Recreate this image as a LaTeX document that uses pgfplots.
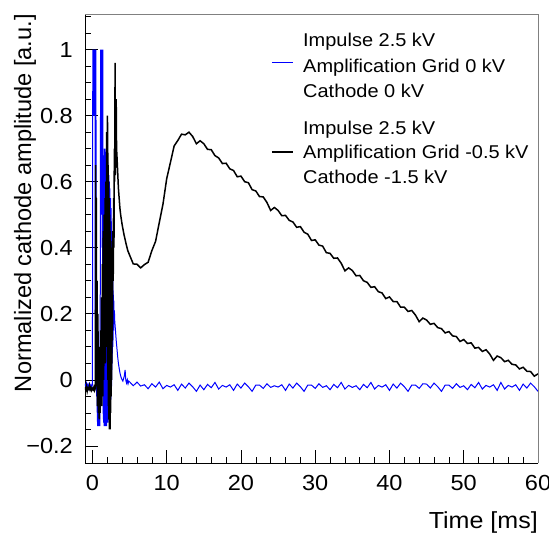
\documentclass[border=0pt]{standalone}
\usepackage{fontspec}
\setmainfont[FakeStretch=1.08]{Liberation Sans}
\newfontfamily\ylabfont{Liberation Sans}
\usepackage{pgfplots}
\pgfplotsset{compat=1.18}
\definecolor{rootblue}{RGB}{0,0,255}
\newcommand{\legfont}{\fontsize{18.5bp}{25bp}\selectfont}
\begin{document}
\begin{tikzpicture}
\begin{axis}[
  name=ax,
  scale only axis, width=453bp, height=449bp,
  xmin=-1, xmax=60, ymin=-0.252, ymax=1.108,
  axis x line*=bottom, axis y line*=left,
  axis line style={-, line width=0.8bp, black},
  xtick={0,10,20,30,40,50,60},
  minor xtick={2,4,6,8,12,14,16,18,22,24,26,28,32,34,36,38,42,44,46,48,52,54,56,58},
  ytick={-0.2,0,0.2,0.4,0.6,0.8,1},
  yticklabels={−0.2,0,0.2,0.4,0.6,0.8,1},
  minor ytick={-0.15,-0.1,-0.05,0.05,0.1,0.15,0.25,0.3,0.35,0.45,0.5,0.55,0.65,0.7,0.75,0.85,0.9,0.95,1.05,1.1},
  tick align=inside,
  major tick length=13bp, minor tick length=6.5bp,
  tick style={black, line width=0.6bp},
  ticklabel style={font=\fontsize{21.8bp}{22bp}\selectfont, inner sep=0pt},
  xticklabel style={yshift=-12bp},
  yticklabel style={xshift=-12bp},
  /pgf/number format/assume math mode=true,
  xlabel={Time [ms]},
  ylabel={Normalized cathode amplitude [a.u.]},
  xlabel style={font=\fontsize{23.2bp}{24bp}\selectfont, at={(rel axis cs:1,-0.1448)}, anchor=base east, inner sep=0pt},
  ylabel style={font=\ylabfont\fontsize{23.6bp}{24bp}\selectfont, at={(rel axis cs:-0.119,1)}, anchor=base east, inner sep=0pt},
]
\addplot[rootblue, line width=1bp] coordinates {
(-1,-0.012) (-0.9,-0.02) (-0.8,-0.01) (-0.7,-0.022) (-0.6,-0.014) (-0.5,-0.025) (-0.4,-0.012) (-0.3,-0.02) (-0.2,-0.015) (-0.1,-0.022) (0,-0.015)
(0.03,0.6) (0.05,1.0) (0.08,0.85) (0.1,1.0) (0.13,0.8) (0.16,1.0) (0.19,0.82) (0.22,1.0) (0.25,0.85) (0.28,1.0) (0.31,0.8) (0.34,1.0) (0.37,0.2) (0.4,1.0) (0.43,0.8) (0.46,1.0) (0.5,0.6) (0.55,-0.05) (0.6,0.1) (0.65,-0.1) (0.7,-0.14) (0.75,-0.05) (0.8,-0.14) (0.85,-0.08) (0.9,-0.14) (0.95,-0.1) (1.0,-0.14) (1.05,0.2) (1.1,1.0) (1.13,0.7) (1.16,1.0) (1.19,0.5) (1.22,1.0) (1.25,0.6) (1.28,1.0) (1.31,0.4) (1.34,1.0) (1.37,0.3) (1.4,1.0) (1.43,0.1)
(1.46,-0.12) (1.48,0.55) (1.50,-0.13) (1.52,0.62) (1.54,-0.10) (1.56,0.68) (1.58,-0.14) (1.60,0.70) (1.62,-0.11) (1.64,0.66) (1.66,-0.13) (1.68,0.70) (1.70,-0.12) (1.72,0.64) (1.74,-0.14) (1.76,0.69) (1.78,-0.10) (1.80,0.60) (1.82,-0.13) (1.84,0.67) (1.86,-0.12) (1.88,0.70) (1.90,-0.14) (1.92,0.65) (1.94,-0.11) (1.96,0.68) (1.98,-0.13) (2.00,0.62) (2.02,-0.12) (2.04,0.66) (2.06,-0.10) (2.08,0.60) (2.10,-0.13) (2.12,0.64) (2.14,-0.11) (2.16,0.58) (2.18,-0.12) (2.20,0.62) (2.22,-0.09) (2.24,0.56) (2.26,-0.11) (2.28,0.60) (2.30,-0.08) (2.32,0.55) (2.34,-0.10) (2.36,0.58) (2.38,-0.06) (2.40,0.52) (2.42,-0.08) (2.44,0.55) (2.46,-0.04) (2.48,0.50) (2.50,-0.06) (2.52,0.52) (2.54,0.00) (2.56,0.48) (2.58,-0.02) (2.60,0.45) (2.62,0.03) (2.64,0.42) (2.66,0.05) (2.68,0.38) (2.70,0.08) (2.72,0.34) (2.74,0.10) (2.76,0.30) (2.78,0.12) (2.80,0.27)
(2.84,0.15) (2.88,0.24) (2.92,0.17) (2.96,0.21) (3.0,0.18) (3.1,0.15) (3.2,0.12) (3.3,0.095) (3.4,0.07) (3.5,0.05) (3.6,0.035) (3.7,0.022) (3.8,0.012) (3.9,0.005) (4.0,0.0) (4.1,-0.004) (4.2,0.004) (4.3,0.012) (4.4,0.03) (4.5,-0.002) (4.6,-0.01) (4.7,0.0) (4.8,-0.012) (4.9,-0.004)
(5.0,-0.006) (5.5,-0.018) (6.0,-0.007) (6.5,-0.019) (7.0,-0.015) (7.5,-0.027) (8.0,-0.012) (8.5,-0.022) (9.0,-0.007) (9.5,-0.027) (10.0,-0.017) (10.5,-0.022) (11.0,-0.015) (11.5,-0.032) (12.0,-0.013) (12.5,-0.025) (13.0,-0.010) (13.5,-0.021) (14.0,-0.035) (14.5,-0.016)
(15.0,-0.030) (15.5,-0.014) (16.0,-0.024) (16.5,-0.008) (17.0,-0.028) (17.5,-0.017) (18.0,-0.022) (18.5,-0.015) (19.0,-0.032) (19.5,-0.013) (20.0,-0.025) (20.5,-0.010) (21.0,-0.021) (21.5,-0.035) (22.0,-0.016) (22.5,-0.016) (23.0,-0.026) (23.5,-0.012) (24.0,-0.023) (24.5,-0.018)
(25.0,-0.022) (25.5,-0.015) (26.0,-0.032) (26.5,-0.013) (27.0,-0.025) (27.5,-0.010) (28.0,-0.021) (28.5,-0.035) (29.0,-0.016) (29.5,-0.016) (30.0,-0.026) (30.5,-0.012) (31.0,-0.023) (31.5,-0.018) (32.0,-0.030) (32.5,-0.014) (33.0,-0.024) (33.5,-0.008) (34.0,-0.028) (34.5,-0.017)
(35.0,-0.023) (35.5,-0.018) (36.0,-0.030) (36.5,-0.014) (37.0,-0.024) (37.5,-0.008) (38.0,-0.028) (38.5,-0.017) (39.0,-0.022) (39.5,-0.015) (40.0,-0.032) (40.5,-0.013) (41.0,-0.025) (41.5,-0.010) (42.0,-0.021) (42.5,-0.035) (43.0,-0.016) (43.5,-0.016) (44.0,-0.026) (44.5,-0.012)
(45.0,-0.013) (45.5,-0.025) (46.0,-0.010) (46.5,-0.021) (47.0,-0.035) (47.5,-0.016) (48.0,-0.016) (48.5,-0.026) (49.0,-0.012) (49.5,-0.023) (50.0,-0.018) (50.5,-0.030) (51.0,-0.014) (51.5,-0.024) (52.0,-0.008) (52.5,-0.028) (53.0,-0.017) (53.5,-0.022) (54.0,-0.015) (54.5,-0.032)
(55.0,-0.008) (55.5,-0.028) (56.0,-0.017) (56.5,-0.022) (57.0,-0.015) (57.5,-0.032) (58.0,-0.013) (58.5,-0.025) (59.0,-0.010) (59.5,-0.021) (60.0,-0.035)
};
\addplot[black, line width=1.5bp] coordinates {
(-1,-0.022) (-0.9,-0.030) (-0.8,-0.02) (-0.7,-0.035) (-0.6,-0.025) (-0.5,-0.028) (-0.4,-0.018) (-0.3,-0.03) (-0.2,-0.024) (-0.1,-0.032)
(0.0,-0.026) (0.1,-0.03) (0.2,-0.022) (0.3,-0.032) (0.4,-0.025) (0.44,0.65) (0.48,0.15) (0.52,0.55) (0.56,-0.02) (0.62,0.3) (0.68,-0.08) (0.74,0.2) (0.8,-0.1) (0.86,0.1) (0.92,-0.12) (0.98,0.05) (1.04,-0.1) (1.1,0.15) (1.16,-0.05) (1.22,0.25) (1.28,-0.08) (1.34,0.35) (1.4,-0.05) (1.46,0.45) (1.52,0.0) (1.58,0.5) (1.64,0.1) (1.7,0.55) (1.76,0.05) (1.82,0.6) (1.88,0.1) (1.92,0.75) (1.96,0.2) (2.0,0.8) (2.03,0.1) (2.06,0.78) (2.09,0.0) (2.12,0.65) (2.15,-0.08) (2.18,0.6) (2.21,-0.12) (2.24,0.55) (2.27,-0.15) (2.30,0.5) (2.33,-0.14) (2.36,0.48) (2.39,-0.15) (2.42,0.45) (2.45,-0.1) (2.48,0.42) (2.51,-0.05) (2.54,0.4) (2.57,0.0) (2.60,0.38) (2.63,0.05) (2.66,0.4) (2.7,0.15) (2.75,0.45) (2.8,0.3) (2.85,0.55) (2.9,0.4) (2.95,0.7) (3.0,0.6) (3.05,0.96) (3.1,0.62) (3.15,0.78) (3.2,0.85) (3.25,0.7) (3.3,0.68) (3.4,0.63) (3.5,0.58) (3.6,0.55) (3.7,0.52) (3.8,0.5) (3.9,0.485) (4.0,0.47) (4.25,0.44) (4.5,0.415) (4.75,0.392)
(5.0,0.378) (5.5,0.351) (6.0,0.350) (6.5,0.339) (7.0,0.349) (7.5,0.356) (8.0,0.391) (8.5,0.419) (9.0,0.476) (9.5,0.532) (10.0,0.609) (10.5,0.658) (11.0,0.708) (11.5,0.725) (12.0,0.744) (12.5,0.742) (13.0,0.750) (13.5,0.737) (14.0,0.715) (14.5,0.724)
(15.0,0.715) (15.5,0.698) (16.0,0.697) (16.5,0.679) (17.0,0.672) (17.5,0.655) (18.0,0.656) (18.5,0.639) (19.0,0.634) (19.5,0.615) (20.0,0.617) (20.5,0.600) (21.0,0.597) (21.5,0.576) (22.0,0.572) (22.5,0.555) (23.0,0.554) (23.5,0.537) (24.0,0.513) (24.5,0.522)
(25.0,0.513) (25.5,0.497) (26.0,0.498) (26.5,0.483) (27.0,0.478) (27.5,0.462) (28.0,0.464) (28.5,0.447) (29.0,0.441) (29.5,0.422) (30.0,0.424) (30.5,0.408) (31.0,0.405) (31.5,0.385) (32.0,0.383) (32.5,0.368) (33.0,0.369) (33.5,0.353) (34.0,0.330) (34.5,0.339)
(35.0,0.331) (35.5,0.315) (36.0,0.316) (36.5,0.300) (37.0,0.295) (37.5,0.280) (38.0,0.282) (38.5,0.267) (39.0,0.263) (39.5,0.246) (40.0,0.251) (40.5,0.237) (41.0,0.237) (41.5,0.220) (42.0,0.220) (42.5,0.207) (43.0,0.210) (43.5,0.196) (44.0,0.176) (44.5,0.187)
(45.0,0.181) (45.5,0.168) (46.0,0.171) (46.5,0.158) (47.0,0.155) (47.5,0.142) (48.0,0.146) (48.5,0.133) (49.0,0.131) (49.5,0.116) (50.0,0.122) (50.5,0.110) (51.0,0.112) (51.5,0.096) (52.0,0.098) (52.5,0.086) (53.0,0.091) (53.5,0.078) (54.0,0.059) (54.5,0.072)
(55.0,0.067) (55.5,0.055) (56.0,0.059) (56.5,0.047) (57.0,0.045) (57.5,0.033) (58.0,0.038) (58.5,0.026) (59.0,0.025) (59.5,0.011) (60.0,0.018)
};
% legend
\draw[rootblue, line width=1bp] (rel axis cs:0.4128,0.8909) -- (rel axis cs:0.4592,0.8909);
\draw[black, line width=1.2bp] (rel axis cs:0.4128,0.6927) -- (rel axis cs:0.4592,0.6927);
\begin{scope}[every node/.style={anchor=base west, inner sep=0pt, font=\legfont}]
\node at (rel axis cs:0.4812,0.9265) {Impulse 2.5 kV};
\node at (rel axis cs:0.4812,0.8708) {Amplification Grid 0 kV};
\node at (rel axis cs:0.4812,0.8151) {Cathode 0 kV};
\node at (rel axis cs:0.4812,0.7327) {Impulse 2.5 kV};
\node at (rel axis cs:0.4812,0.6771) {Amplification Grid -0.5 kV};
\node at (rel axis cs:0.4812,0.6225) {Cathode -1.5 kV};
\end{scope}
\end{axis}
\draw[gray, line width=0.8bp] (ax.north west) -- (ax.north east) -- (ax.south east);
\pgfresetboundingbox
\path ([xshift=-85bp, yshift=-71bp]ax.south west) rectangle ([xshift=11bp, yshift=14bp]ax.north east);
\end{tikzpicture}
\end{document}
